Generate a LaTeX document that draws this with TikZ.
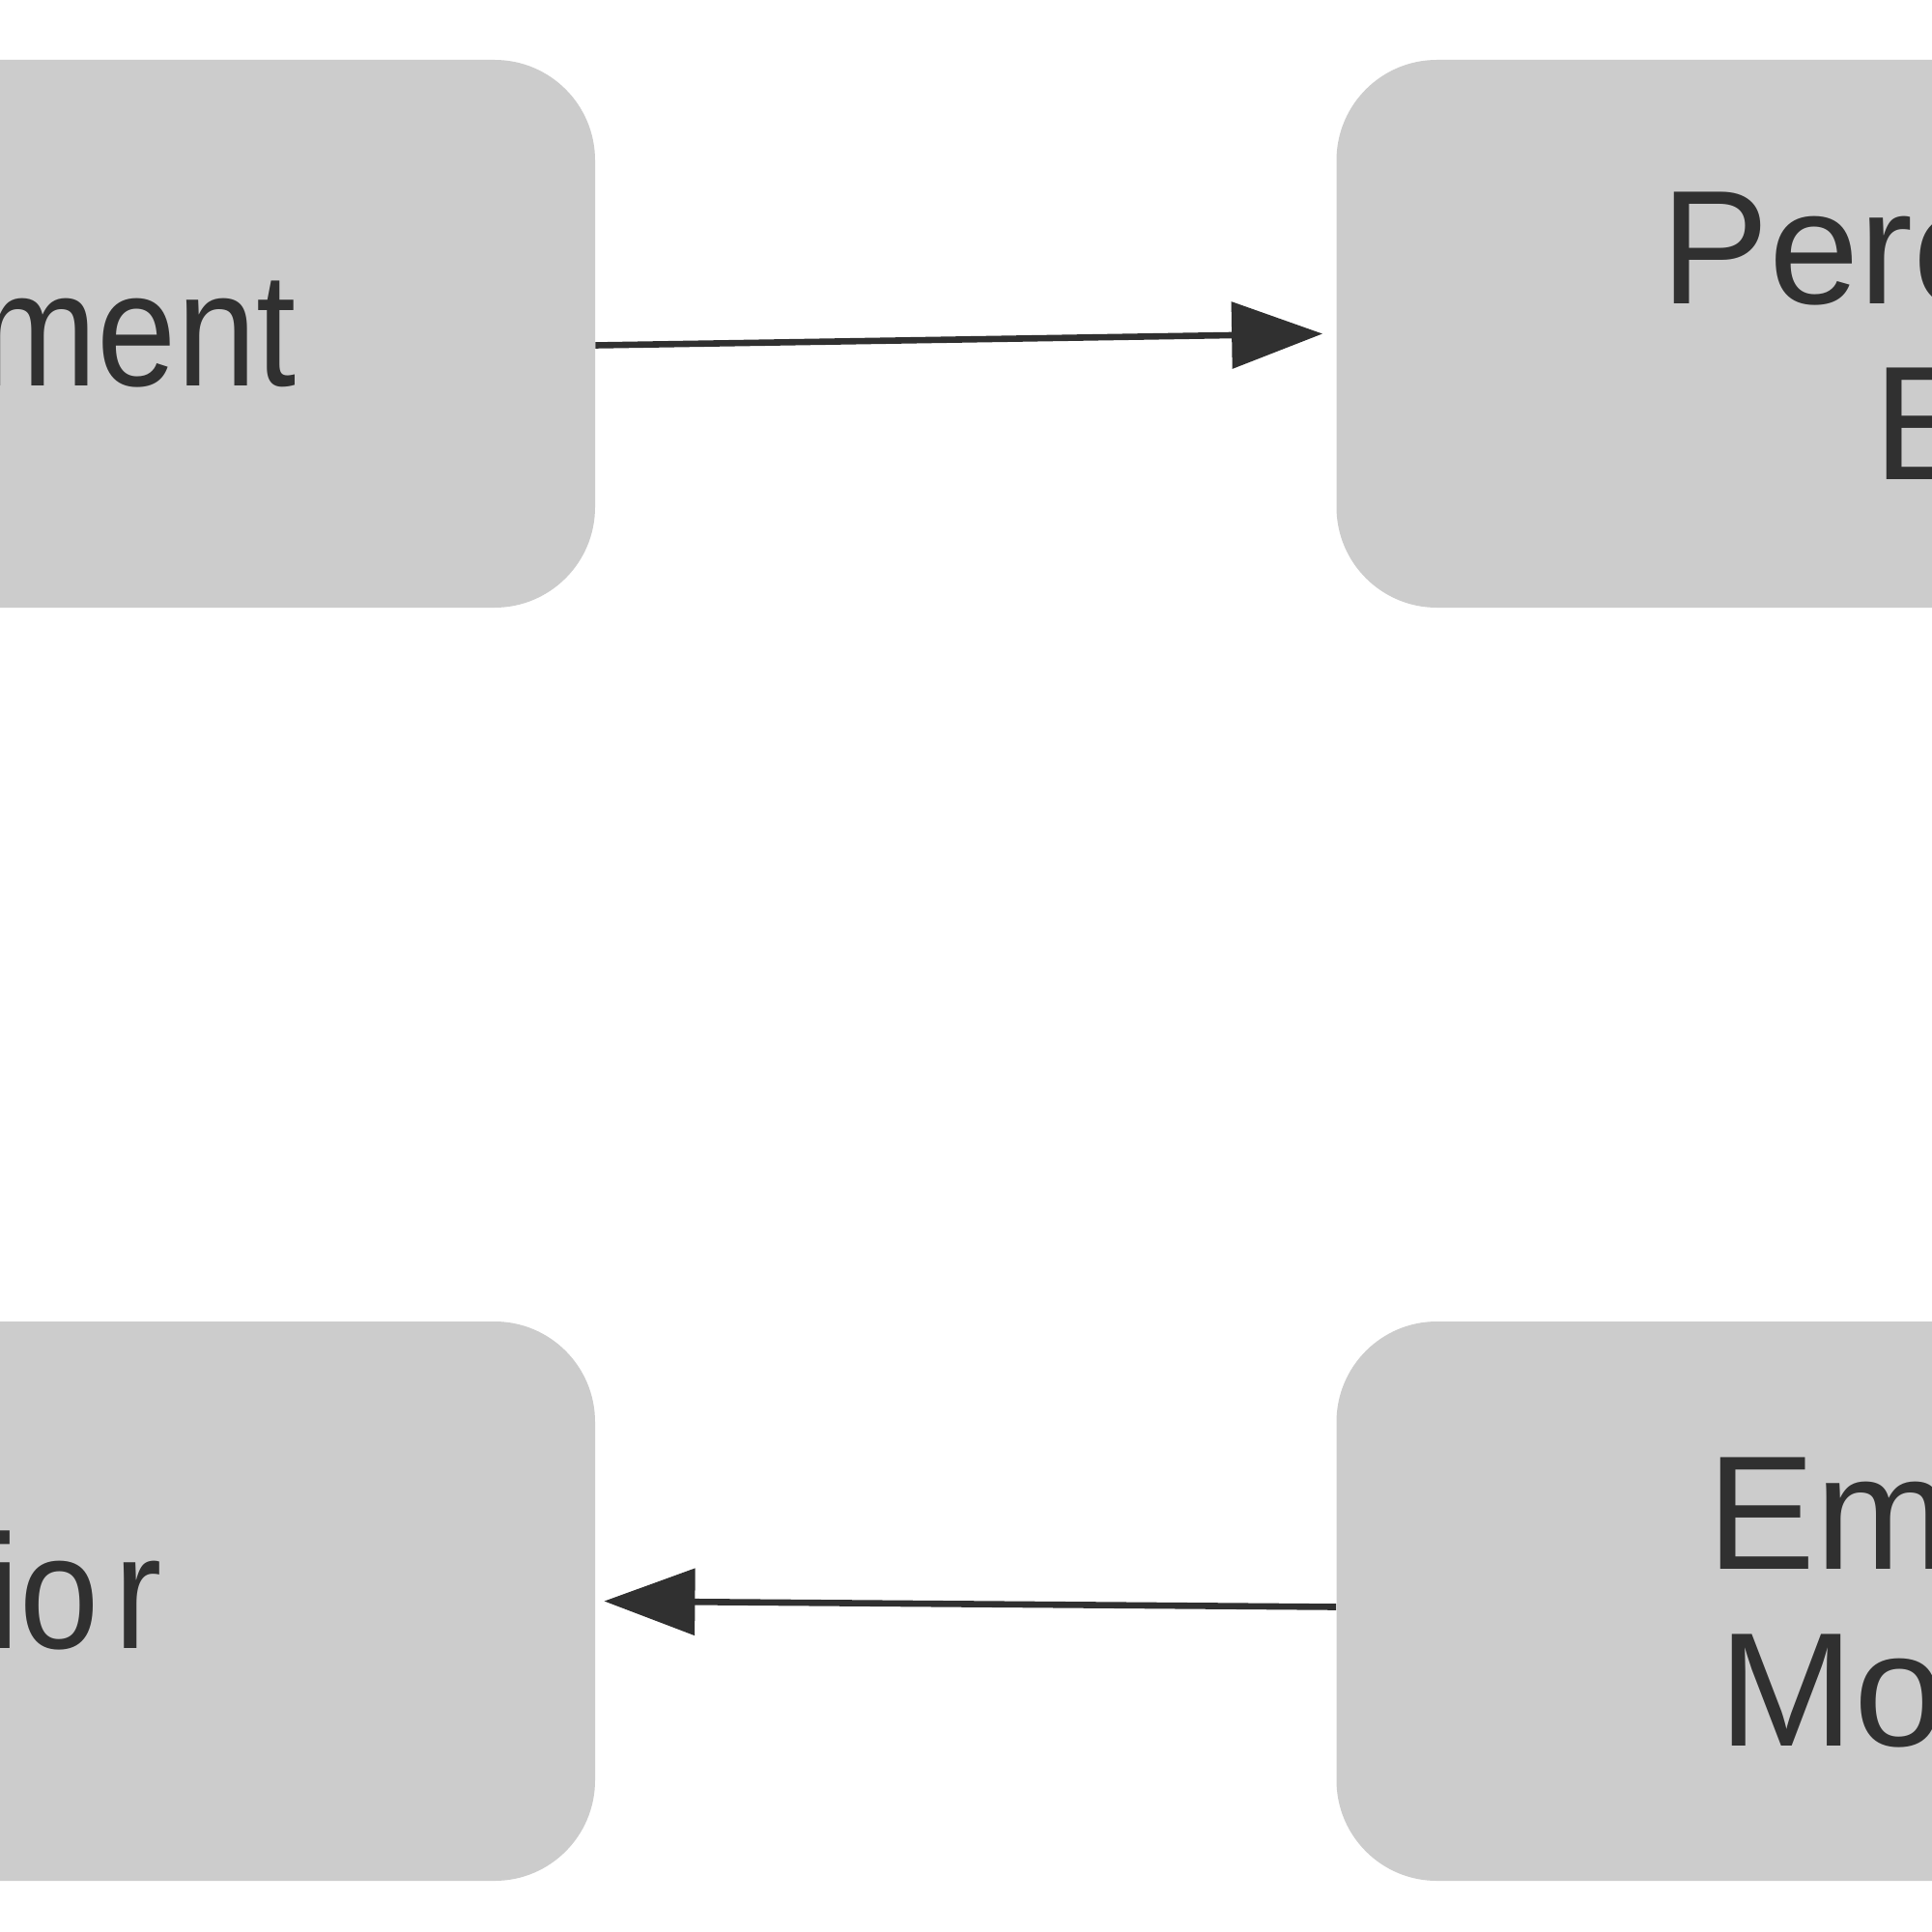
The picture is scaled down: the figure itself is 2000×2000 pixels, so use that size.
\documentclass[tikz,border=0pt]{standalone}
\usepackage{fontspec}
\setmainfont{Liberation Sans}[FakeStretch=0.88]
\newfontfamily\rightfont{Liberation Sans}
\usetikzlibrary{arrows.meta}
\definecolor{boxgray}{HTML}{CCCCCC}
\definecolor{inkgray}{HTML}{303030}
\begin{document}
\begin{tikzpicture}[x=0.5pt,y=-0.5pt,
  boxstyle/.style={fill=boxgray, draw=none, rounded corners=52pt, inner sep=0pt, rectangle},
  lbl/.style={inner sep=0pt, text=inkgray, font=\fontsize{84}{90}\selectfont},
  rlbl/.style={inner sep=0pt, text=inkgray, font=\rightfont\fontsize{84}{90}\selectfont},
  arr/.style={draw=inkgray, line width=3.3pt, -{Triangle[length=47pt,width=34pt]}}]
\useasboundingbox (0,0) rectangle (2000,2000);
\fill[white] (0,0) rectangle (2000,2000);
% boxes
\node[boxstyle, minimum width=781pt, minimum height=283.5pt] (env) at (-165,345.5) {};
\node[boxstyle, minimum width=783pt, minimum height=283.5pt] (per) at (2166.5,345.5) {};
\node[boxstyle, minimum width=781pt, minimum height=289.5pt] (beh) at (-165,1657.5) {};
\node[boxstyle, minimum width=783pt, minimum height=289.5pt] (emo) at (2166.5,1657.5) {};
% texts
\node[lbl, anchor=base east] (envt) at (307,400) {Environment};
\node[rlbl, anchor=base west] (per1) at (1719,315) {Perceived};
\node[rlbl, anchor=base west] (per2) at (1939,496) {Event};
\node[lbl, anchor=base east] (beht) at (168,1706) {Behavio\kern8pt r};
\node[rlbl, anchor=base west] (emo1) at (1767,1624) {Emotion};
\node[rlbl, anchor=base west] (emo2) at (1779,1807) {Model};
% connectors
\draw[arr] ([yshift=-6pt]env.east) -- ([xshift=-7pt]per.west);
\draw[arr] ([yshift=-3pt]emo.west) -- ([xshift=4.5pt]beh.east);
\end{tikzpicture}
\end{document}
